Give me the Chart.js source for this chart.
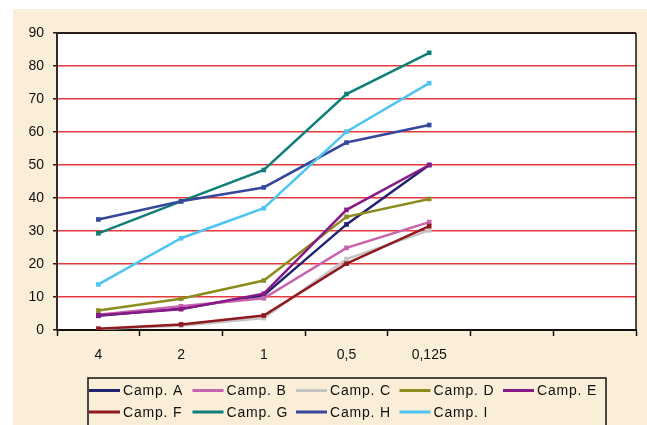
<!DOCTYPE html>
<html>
<head>
<meta charset="utf-8">
<script src="https://cdn.jsdelivr.net/npm/chart.js@4/dist/chart.umd.min.js"></script>
<style>
  html, body { margin: 0; padding: 0; background: #fff; }
  #wrap { width: 647px; height: 425px; }
</style>
</head>
<body>
<div id="wrap"><canvas id="myChart" width="647" height="425"></canvas></div>
<script>
// categories on the x axis (two empty slots on the right)
var categories = ['4', '2', '1', '0,5', '0,125', '', ''];
var yTicks = [0, 10, 20, 30, 40, 50, 60, 70, 80, 90];

var campA = [4.3, 6.5, 10.5, 32, 50];
var campB = [4.6, 7.2, 9.6, 24.9, 32.7];
var campC = [0.3, 1.3, 3.6, 21.5, 30.2];
var campD = [5.9, 9.5, 15, 34.3, 39.7];
var campE = [4.5, 6.3, 11, 36.4, 50];
var campF = [0.4, 1.7, 4.4, 20.1, 31.5];
var campG = [29.3, 39, 48.5, 71.5, 84];
var campH = [33.5, 39, 43.2, 56.8, 62.1];
var campI = [13.8, 27.8, 36.9, 60.1, 74.8];

var seriesNames = ['Camp. A', 'Camp. B', 'Camp. C', 'Camp. D', 'Camp. E',
                   'Camp. F', 'Camp. G', 'Camp. H', 'Camp. I'];
var seriesData = [campA, campB, campC, campD, campE, campF, campG, campH, campI];
var seriesColors = ['#22226e', '#c763ad', '#c4c4c4', '#8c8c1e', '#861a86',
                    '#8e1a1f', '#0f7f78', '#37489c', '#4ec4f0'];

var FONT = '"Liberation Sans", Arial, sans-serif';

// cream page, white plot, dark frame
var backdrop = {
    id: 'backdrop',
    beforeDraw: function(chart) {
        var c = chart.ctx, a = chart.chartArea;
        c.save();
        c.fillStyle = '#ffffff';
        c.fillRect(0, 0, chart.width, chart.height);
        c.fillStyle = '#faeed8';
        c.fillRect(13, 9, chart.width - 13, chart.height - 9);
        c.fillStyle = '#ffffff';
        c.fillRect(a.left, a.top, a.right - a.left, a.bottom - a.top);
        c.restore();
    },
    afterDatasetsDraw: function(chart) {
        var c = chart.ctx, a = chart.chartArea;
        c.save();
        c.strokeStyle = '#2b1a18';
        c.lineWidth = 2;
        c.beginPath();
        c.moveTo(a.left, a.top);
        c.lineTo(a.right, a.top);
        c.stroke();
        c.strokeStyle = '#111';
        c.lineWidth = 1.5;
        c.beginPath();
        c.moveTo(a.right, a.top);
        c.lineTo(a.right, a.bottom);
        c.stroke();
        c.restore();
    }
};

// legend laid out as a 5-column grid inside a box
var gridLegend = {
    id: 'gridLegend',
    afterDraw: function(chart) {
        var c = chart.ctx;
        c.save();
        c.strokeStyle = '#111';
        c.lineWidth = 1.5;
        c.strokeRect(88, 378, 518, 60);
        c.font = '14px ' + FONT;
        c.letterSpacing = '0.8px';
        c.textBaseline = 'middle';
        c.fillStyle = '#111';
        chart.data.datasets.forEach(function(ds, i) {
            var col = i % 5, row = Math.floor(i / 5);
            var x = 89 + col * 103.5, y = 390.5 + row * 21.5;
            c.strokeStyle = ds.borderColor;
            c.lineWidth = 3;
            c.beginPath();
            c.moveTo(x, y);
            c.lineTo(x + 31, y);
            c.stroke();
            c.fillText(ds.label, x + 34, y + 1);
        });
        c.restore();
    }
};

var ctx = document.getElementById('myChart');
var myChart = new Chart(ctx, {
    type: 'line',
    data: {
        labels: categories,
        datasets: seriesData.map(function(vals, i) {
            return {
                label: seriesNames[i],
                data: vals,
                borderColor: seriesColors[i],
                backgroundColor: seriesColors[i],
                borderWidth: 2.5,
                pointStyle: 'rect',
                pointRadius: 1.5,
                pointHoverRadius: 1.5,
                tension: 0,
                fill: false,
                order: seriesData.length - i
            };
        })
    },
    options: {
        responsive: false,
        animation: false,
        layout: { padding: { top: 33, right: 11, left: 0, bottom: 0 } },
        plugins: {
            legend: { display: false },
            tooltip: { enabled: false }
        },
        scales: {
            x: {
                offset: true,
                grid: {
                    offset: true,
                    drawOnChartArea: false,
                    drawTicks: true,
                    tickLength: 6,
                    tickColor: '#111',
                    tickWidth: 1.5
                },
                border: { color: '#111', width: 2 },
                ticks: {
                    color: '#111',
                    padding: 11,
                    maxRotation: 0,
                    autoSkip: false,
                    font: { family: FONT, size: 14 }
                },
                afterFit: function(s) { s.height = 95; }
            },
            y: {
                min: 0,
                max: 90,
                afterBuildTicks: function(s) {
                    s.ticks = yTicks.map(function(v) { return { value: v }; });
                },
                grid: {
                    color: function(c) { return c.tick.value === 0 ? 'rgba(0,0,0,0)' : '#e6383d'; },
                    lineWidth: 1.5,
                    drawTicks: true,
                    tickLength: 4,
                    tickColor: '#2b1a18'
                },
                border: { color: '#3a2a22', width: 2 },
                ticks: {
                    color: '#111',
                    padding: 9,
                    font: { family: FONT, size: 14 }
                },
                afterFit: function(s) { s.width = 57; }
            }
        }
    },
    plugins: [backdrop, gridLegend]
});
</script>
</body>
</html>
